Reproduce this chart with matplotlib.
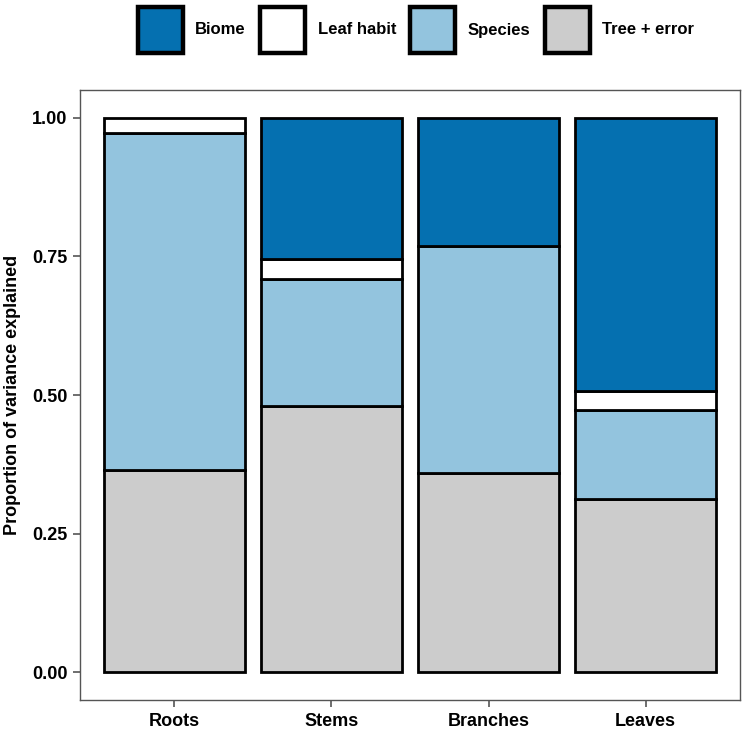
import matplotlib.pyplot as plt
from matplotlib.patches import Patch
import numpy as np

plt.rcParams['font.family'] = ['Liberation Sans', 'DejaVu Sans']

organs = ['Roots', 'Stems', 'Branches', 'Leaves']
# proportion of variance, stacked from bottom up
tree_error = [0.365, 0.480, 0.359, 0.312]
species = [0.608, 0.230, 0.410, 0.161]
leaf_habit = [0.027, 0.035, 0.0, 0.035]
biome = [0.0, 0.255, 0.231, 0.492]

comp_names = ['Biome', 'Leaf habit', 'Species', 'Tree + error']
comp_colors = ['#0570b0', '#ffffff', '#93c4de', '#cccccc']

fig = plt.figure(figsize=(7.44, 7.33), dpi=100)
ax = fig.add_axes([80 / 744, 33 / 733, 660 / 744, 610 / 733])

x = np.arange(1, len(organs) + 1)
bottom = np.zeros(len(organs))
stack = [(tree_error, comp_colors[3]), (species, comp_colors[2]),
         (leaf_habit, comp_colors[1]), (biome, comp_colors[0])]
for vals, col in stack:
    vals = np.array(vals)
    keep = vals > 0
    ax.bar(x[keep], vals[keep], bottom=bottom[keep], width=0.9, color=col,
           edgecolor='black', linewidth=2)
    bottom = bottom + vals

ax.set_xlim(0.4, 4.6)
ax.set_ylim(-0.05, 1.05)
ax.set_yticks([0, 0.25, 0.5, 0.75, 1.0])
ax.set_yticklabels(['0.00', '0.25', '0.50', '0.75', '1.00'])
ax.set_xticks(x)
ax.set_xticklabels(organs)
for lbl in ax.get_xticklabels() + ax.get_yticklabels():
    lbl.set_fontweight('bold')
    lbl.set_fontsize(13)
    lbl.set_color('black')
ax.tick_params(axis='both', length=5, width=1.2, color='#555555', pad=4)
for sp in ax.spines.values():
    sp.set_color('#555555')
    sp.set_linewidth(1)
ax.set_ylabel('Proportion of variance explained', fontsize=13,
              fontweight='bold', labelpad=8)

handles = [Patch(facecolor=c, edgecolor='black', linewidth=3.2) for c in comp_colors]
fig.legend(handles, comp_names, loc='center', bbox_to_anchor=(0.559, 1 - 30 / 733),
           ncol=4, frameon=False, prop={'weight': 'bold', 'size': 12},
           handlelength=2.7, handleheight=3.9, handletextpad=0.75,
           columnspacing=0.85, borderaxespad=0.0, borderpad=0.0)

fig.savefig('out.png', dpi=100)
